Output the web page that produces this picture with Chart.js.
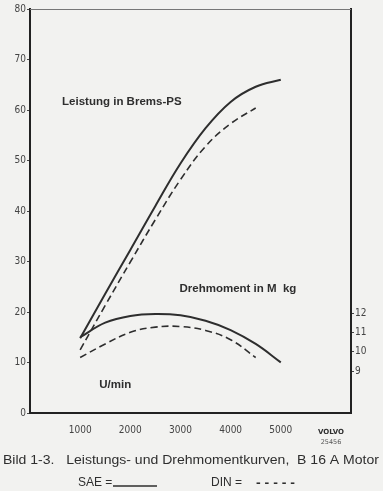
<!DOCTYPE html>
<html><head><meta charset="utf-8">
<script src="https://cdn.jsdelivr.net/npm/chart.js@4/dist/chart.umd.min.js"></script>
<style>
html,body{margin:0;padding:0;background:#f2f2f0;}
#wrap{position:relative;width:383px;height:491px;}
</style></head>
<body><div id="wrap"><canvas id="c" width="383" height="491"></canvas></div>
<script>
// Data
const rpmSAE = [1000,1500,2000,2500,3000,3500,4000,4500,5000];
const powerSAE = [14.8,23.6,32.3,41,49.4,56.4,61.6,64.6,66];
const torqueSAE = [10.75,11.5,11.85,11.95,11.88,11.6,11.12,10.4,9.45];
const rpmDIN = [1000,1500,2000,2500,3000,3500,4000,4500];
const powerDIN = [12.5,21.3,29.9,38.3,46.2,52.8,57.3,60.4];
const torqueDIN = [9.7,10.4,11.0,11.27,11.3,11.1,10.62,9.7];
const xTicks = [1000,2000,3000,4000,5000];
const yTicks = [0,10,20,30,40,50,60,70,80];
const y1Ticks = [9,10,11,12];
const labels = {
  power: 'Leistung in Brems-PS',
  torque: 'Drehmoment in M  kg',
  rpm: 'U/min',
  caption: 'Bild 1-3.   Leistungs- und Drehmomentkurven,  B 16 A Motor',
  sae: 'SAE =',
  din: 'DIN =',
  dinDash: '- - - - -',
  logo: 'VOLVO',
  code: '25456'
};

const ink = '#2e2e2e';
const pts = (xs, ys) => xs.map((x,i)=>({x:x,y:ys[i]}));

const deco = {
  id:'deco',
  beforeDraw(chart){
    const ctx = chart.ctx;
    ctx.save();
    ctx.fillStyle = '#f2f2f0';
    ctx.fillRect(0,0,chart.width,chart.height);
    ctx.restore();
  },
  afterDraw(chart){
    const ctx = chart.ctx, a = chart.chartArea;
    const xs = chart.scales.x, ys = chart.scales.y;
    ctx.save();
    ctx.strokeStyle = '#777'; ctx.lineWidth = 1;
    ctx.beginPath(); ctx.moveTo(a.left, a.top+0.5); ctx.lineTo(a.right, a.top+0.5); ctx.stroke();
    ctx.fillStyle = ink;
    ctx.textBaseline = 'middle'; ctx.textAlign = 'left';
    ctx.font = 'bold 11.5px "Liberation Sans", Arial, sans-serif';
    ctx.fillText(labels.power, xs.getPixelForValue(640), ys.getPixelForValue(61.6));
    ctx.fillText(labels.torque, xs.getPixelForValue(2980), ys.getPixelForValue(24.6));
    ctx.fillText(labels.rpm, xs.getPixelForValue(1380), ys.getPixelForValue(5.5));
    ctx.textAlign = 'center';
    ctx.font = 'bold 7px "DejaVu Sans", sans-serif';
    ctx.fillText(labels.logo, 331, 432);
    ctx.font = '6.5px "DejaVu Sans", sans-serif';
    ctx.fillStyle = '#555';
    ctx.fillText(labels.code, 331, 442);
    ctx.fillStyle = ink;
    ctx.textAlign = 'left';
    ctx.font = '12px "Liberation Sans", Arial, sans-serif';
    const w = ctx.measureText(labels.caption).width;
    ctx.save();
    ctx.translate(3, 461);
    ctx.scale(376/w, 1);
    ctx.fillText(labels.caption, 0, 0);
    ctx.restore();
    ctx.font = '12px "Liberation Sans", Arial, sans-serif';
    ctx.fillText(labels.sae, 78, 483);
    ctx.strokeStyle = ink; ctx.lineWidth = 1.3;
    ctx.beginPath(); ctx.moveTo(113, 486); ctx.lineTo(157, 486); ctx.stroke();
    ctx.fillText(labels.din, 211, 483);
    ctx.font = 'bold 12px "Liberation Sans", Arial, sans-serif';
    ctx.save();
    const dw = ctx.measureText(labels.dinDash).width;
    ctx.translate(256, 484);
    ctx.scale(39/dw, 1);
    ctx.fillText(labels.dinDash, 0, 0);
    ctx.restore();
    ctx.restore();
  }
};

const tickFont = {size:10, family:'"DejaVu Sans Condensed","DejaVu Sans",sans-serif'};
new Chart(document.getElementById('c'), {
  type:'line',
  data:{datasets:[
    {data:pts(rpmSAE,powerSAE), yAxisID:'y', borderColor:ink, borderWidth:2, pointRadius:0, tension:0.4, fill:false},
    {data:pts(rpmDIN,powerDIN), yAxisID:'y', borderColor:ink, borderWidth:1.6, borderDash:[7,4], pointRadius:0, tension:0.4, fill:false},
    {data:pts(rpmSAE,torqueSAE), yAxisID:'y1', borderColor:ink, borderWidth:2, pointRadius:0, tension:0.4, fill:false},
    {data:pts(rpmDIN,torqueDIN), yAxisID:'y1', borderColor:ink, borderWidth:1.6, borderDash:[7,4], pointRadius:0, tension:0.4, fill:false}
  ]},
  options:{
    responsive:false, animation:false, devicePixelRatio:1,
    layout:{padding:{top:9,left:0,right:0,bottom:0}},
    plugins:{legend:{display:false}, tooltip:{enabled:false}},
    scales:{
      x:{type:'linear', min:0, max:6400,
        afterBuildTicks(s){ s.ticks = xTicks.map(v=>({value:v})); },
        afterFit(s){ s.height = 78; },
        grid:{display:false, drawOnChartArea:false},
        border:{display:true, color:'#222', width:2},
        ticks:{color:'#444', font:tickFont, padding:3, maxRotation:0, callback:v=>String(v)}
      },
      y:{type:'linear', position:'left', min:0, max:80,
        afterBuildTicks(s){ s.ticks = yTicks.map(v=>({value:v})); },
        afterFit(s){ s.width = 30; },
        grid:{drawOnChartArea:false, tickLength:3, color:'#444'},
        border:{display:true, color:'#222', width:2},
        ticks:{color:'#444', font:tickFont, padding:1, callback:v=>String(v)}
      },
      y1:{type:'linear', position:'right', min:6.83, max:27.72,
        afterBuildTicks(s){ s.ticks = y1Ticks.map(v=>({value:v})); },
        afterFit(s){ s.width = 32; },
        grid:{drawOnChartArea:false, tickLength:3, color:'#444'},
        border:{display:true, color:'#222', width:2},
        ticks:{color:'#444', font:tickFont, padding:1, callback:v=>String(v)}
      }
    }
  },
  plugins:[deco]
});
</script></body></html>
